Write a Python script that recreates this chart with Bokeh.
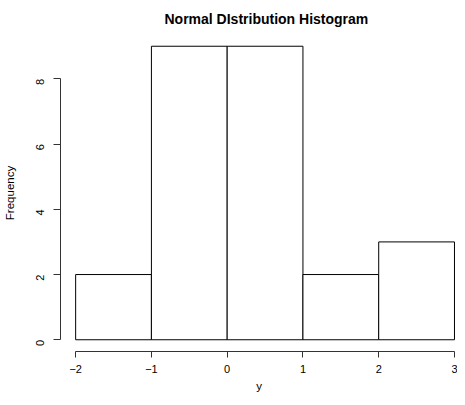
import math
from bokeh.plotting import figure
from bokeh.models import Range1d, FixedTicker, Title
from bokeh.embed import file_html
from bokeh.resources import INLINE

# Data
bin_left = [-2, -1, 0, 1, 2]
bin_right = [-1, 0, 1, 2, 3]
counts = [2, 9, 9, 2, 3]
x_ticks = [-2, -1, 0, 1, 2, 3]
x_tick_labels = ["\u22122", "\u22121", "0", "1", "2", "3"]
y_ticks = [0, 2, 4, 6, 8]

FONT = "Liberation Sans"

p = figure(width=457, height=397, output_backend="svg", toolbar_location=None,
           x_range=Range1d(-2.2, 3.04), y_range=Range1d(-0.36, 9.36),
           min_border_left=60, min_border_right=0, min_border_top=34, min_border_bottom=46)
p.outline_line_color = None
p.xgrid.visible = False
p.ygrid.visible = False
p.background_fill_color = "white"
p.border_fill_color = "white"

p.quad(left=bin_left, right=bin_right, bottom=0, top=counts,
       fill_color="white", line_color="black", line_width=1)

p.title = Title(text="Normal DIstribution Histogram", align="left", offset=104,
                standoff=16,
                text_font=FONT, text_font_size="14px", text_font_style="bold",
                text_color="black")

for ax in (p.xaxis[0], p.yaxis[0]):
    ax.axis_line_color = "#333333"
    ax.major_tick_line_color = "#333333"
    ax.major_tick_in = 0
    ax.minor_tick_line_color = None
    ax.major_label_text_font = FONT
    ax.major_label_text_font_size = "11px"
    ax.major_label_text_color = "black"
    ax.axis_label_text_font = FONT
    ax.axis_label_text_font_size = "11.5px"
    ax.axis_label_text_font_style = "normal"
    ax.axis_label_text_color = "black"

p.xaxis[0].ticker = FixedTicker(ticks=x_ticks)
p.xaxis[0].major_label_overrides = {t: l for t, l in zip(x_ticks, x_tick_labels)}
p.xaxis[0].bounds = (min(x_ticks), max(x_ticks))
p.xaxis[0].axis_label = "y"
p.xaxis[0].major_tick_out = 6
p.xaxis[0].major_label_standoff = 7
p.xaxis[0].axis_label_standoff = 4

p.yaxis[0].ticker = FixedTicker(ticks=y_ticks)
p.yaxis[0].bounds = (min(y_ticks), max(y_ticks))
p.yaxis[0].axis_label = "Frequency"
p.yaxis[0].major_tick_out = 7
p.yaxis[0].major_label_orientation = math.pi / 2
p.yaxis[0].major_label_standoff = 13
p.yaxis[0].axis_label_standoff = 14

open("out.html", "w").write(file_html(p, INLINE))
